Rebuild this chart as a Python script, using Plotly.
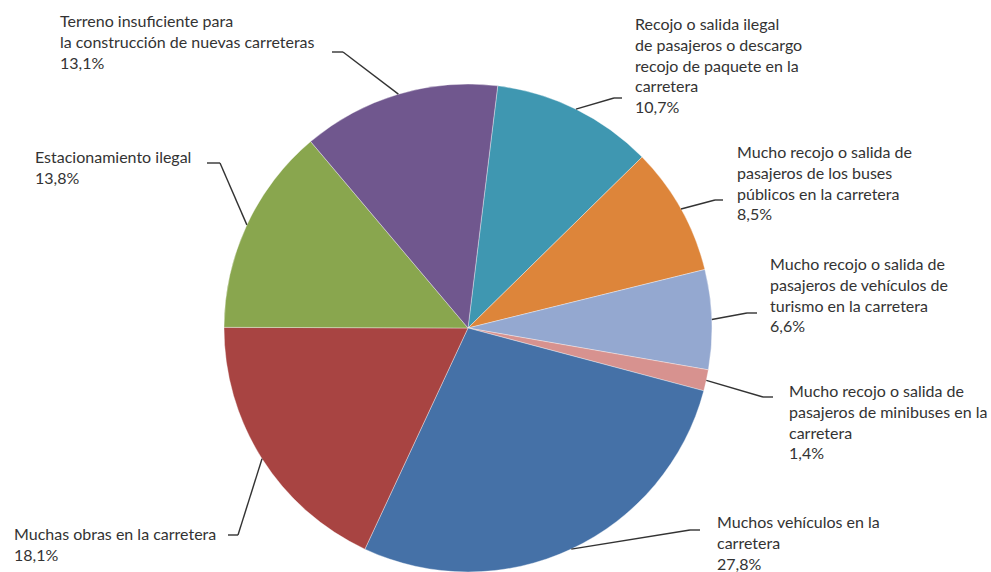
import math
import plotly.graph_objects as go

# ---- data ----
categories = [
    "Recojo o salida ilegal<br>de pasajeros o descargo<br>recojo de paquete en la<br>carretera",
    "Mucho recojo o salida de<br>pasajeros de los buses<br>públicos en la carretera",
    "Mucho recojo o salida de<br>pasajeros de vehículos de<br>turismo en la carretera",
    "Mucho recojo o salida de<br>pasajeros de minibuses en la<br>carretera",
    "Muchos vehículos en la<br>carretera",
    "Muchas obras en la carretera",
    "Estacionamiento ilegal",
    "Terreno insuficiente para<br>la construcción de nuevas carreteras",
]
values = [10.7, 8.5, 6.6, 1.4, 27.8, 18.1, 13.8, 13.1]
pct_labels = ["10,7%", "8,5%", "6,6%", "1,4%", "27,8%", "18,1%", "13,8%", "13,1%"]

# ---- styles / layout ----
colors = ["#3F97B1", "#DD853A", "#94A8D0", "#D7928F", "#4571A7", "#A84442", "#89A64E", "#70578E"]
W, H = 991, 572
CX, CY, R = 468, 328, 244
ROTATION = 7
# label box (left x, top y) and leader end point (x, y) in pixels
label_pos = [(633, 12), (735, 140), (768, 252), (787, 379), (715, 510), (12, 522), (33, 145), (58, 9)]
leader_end = [(622, 98), (723, 200), (757, 313), (773, 397), (700, 530), (228, 535), (207, 163), (332, 52)]
elbow_dx = [-8, -8, -10, -10, -10, 10, 13, 11]

fig = go.Figure(go.Pie(
    values=values,
    labels=[c.replace("<br>", " ") for c in categories],
    sort=False,
    direction="clockwise",
    rotation=ROTATION,
    textinfo="none",
    hoverinfo="label+percent",
    marker=dict(colors=colors, line=dict(color="rgba(255,255,255,0.6)", width=0.6)),
    domain=dict(x=[(CX - R) / W, (CX + R) / W], y=[1 - (CY + R) / H, 1 - (CY - R) / H]),
    showlegend=False,
))

def px(x):
    return x / W

def py(y):
    return 1 - y / H

total = sum(values)
cum = 0.0
shapes = []
annotations = []
for i, v in enumerate(values):
    mid = math.radians(ROTATION + 360 * (cum + v / 2) / total)
    cum += v
    sx = CX + R * math.sin(mid)
    sy = CY - R * math.cos(mid)
    ex, ey = leader_end[i]
    bx = ex + elbow_dx[i]
    line_style = dict(color="#333333", width=1.4)
    shapes.append(dict(type="line", xref="paper", yref="paper",
                       x0=px(sx), y0=py(sy), x1=px(bx), y1=py(ey), line=line_style))
    shapes.append(dict(type="line", xref="paper", yref="paper",
                       x0=px(bx), y0=py(ey), x1=px(ex), y1=py(ey), line=line_style))
    lx, ly = label_pos[i]
    annotations.append(dict(
        x=px(lx), y=py(ly), xref="paper", yref="paper", xanchor="left", yanchor="top",
        align="left", showarrow=False, text=categories[i] + "<br>" + pct_labels[i],
        font=dict(family="Lato", size=16, color="#333333"),
    ))

fig.update_layout(
    width=W, height=H,
    margin=dict(l=0, r=0, t=0, b=0),
    paper_bgcolor="white", plot_bgcolor="white",
    shapes=shapes, annotations=annotations,
)

fig.write_html("out.html")
